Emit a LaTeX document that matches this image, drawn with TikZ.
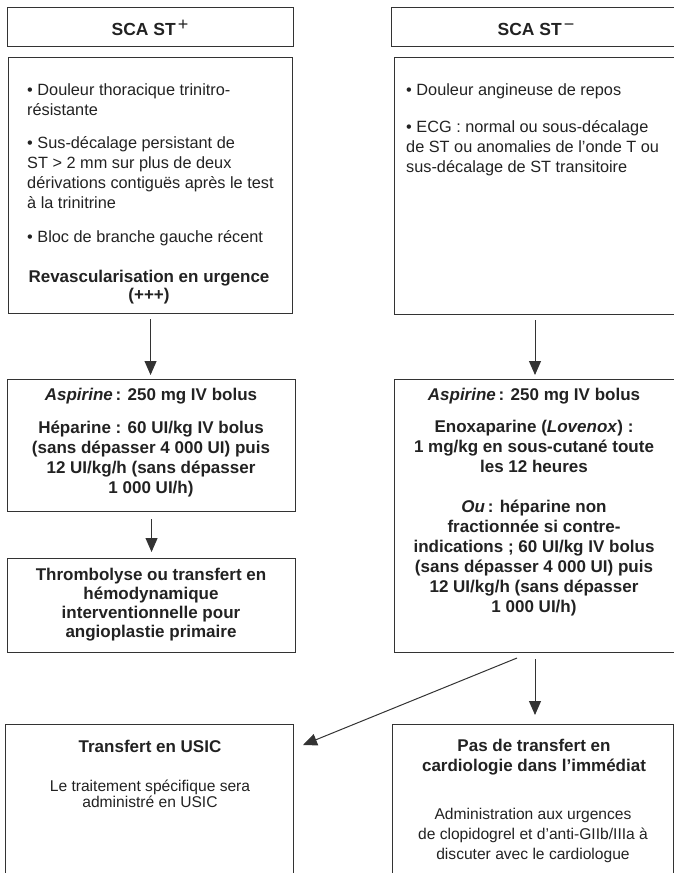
\documentclass[tikz,border=0pt]{standalone}
\usepackage{fontspec}
\setmainfont{Liberation Sans}
\usetikzlibrary{arrows.meta}

\definecolor{linecol}{HTML}{333333}
\definecolor{textcol}{HTML}{222222}

\newcommand\bodyfont{\fontsize{16.3}{20}\selectfont}
\newcommand\smallbody{\fontsize{15.6}{20}\selectfont}
\newcommand\boldfont{\fontsize{17}{20}\selectfont\bfseries}
\newcommand\headfont{\fontsize{17.5}{20}\selectfont\bfseries}
\newcommand\supsign[1]{\kern2pt\raisebox{4.8pt}{\normalfont\fontsize{18}{18}\selectfont #1}}

\tikzset{
  box/.style={draw=linecol, line width=1.1pt, inner sep=0pt, anchor=north west},
  txt/.style={inner sep=0pt, text=textcol, font=\bodyfont},
  btxt/.style={txt, font=\boldfont},
  arr/.style={draw=linecol, line width=1pt, -{Triangle[width=12pt,length=14pt]}},
}

\begin{document}
\begin{tikzpicture}[x=1pt, y=-1pt]
\useasboundingbox (0,0) rectangle (674,873);
\begin{scope}
\clip (0,0) rectangle (674,873);

% ---------- boxes ----------
\node[box, minimum width=286pt, minimum height=39pt]  (hL)  at (7,7)   {};
\node[box, minimum width=320pt, minimum height=39pt]  (hR)  at (391,7) {};
\node[box, minimum width=284pt, minimum height=256pt] (b1L) at (8,57)  {};
\node[box, minimum width=320pt, minimum height=257pt] (b1R) at (394,57) {};
\node[box, minimum width=288pt, minimum height=132pt] (b2L) at (7,379) {};
\node[box, minimum width=320pt, minimum height=273pt] (b2R) at (394,379) {};
\node[box, minimum width=288pt, minimum height=94pt]  (b3L) at (7,558) {};
\node[box, minimum width=288pt, minimum height=200pt] (b4L) at (5,724) {};
\node[box, minimum width=281pt, minimum height=200pt] (b4R) at (392,724) {};

% ---------- texts ----------
\node[txt, anchor=base] (tHL) at (150,35) {\headfont SCA ST\supsign{+}};
\node[txt, anchor=base] (tHR) at (536,35) {\headfont SCA ST\supsign{−}};

\node[txt, anchor=base west] (t1L) at (27,95) {\begin{minipage}[t]{262pt}\raggedright
• Douleur thoracique trinitro-\\résistante\par\vspace{13pt}
• Sus-décalage persistant de\\ST > 2~mm sur plus de deux\\dérivations contiguës après le test\\à la trinitrine\par\vspace{14pt}
• Bloc de branche gauche récent\end{minipage}};
\node[btxt, anchor=base] (t1Lb) at (149,282)
  {\begin{minipage}[t]{280pt}\centering Revascularisation en urgence\\[-2pt](+++)\end{minipage}};

\node[txt, anchor=base west] (t1R) at (406,95) {\begin{minipage}[t]{262pt}\raggedright
• Douleur angineuse de repos\par\vspace{17pt}
• ECG : normal ou sous-décalage\\de ST ou anomalies de l’onde T ou\\sus-décalage de ST transitoire\end{minipage}};

\node[btxt, anchor=base] (t2L) at (151,400) {\begin{minipage}[t]{284pt}\centering
\textit{Aspirine}\,: 250~mg IV bolus\par\vspace{13pt}
Héparine : 60~UI/kg IV bolus\\(sans dépasser 4~000~UI) puis\\12~UI/kg/h (sans dépasser\\1~000~UI/h)\end{minipage}};

\node[btxt, anchor=base] (t2R) at (534,400) {\begin{minipage}[t]{284pt}\centering
\textit{Aspirine}\,: 250~mg IV bolus\par\vspace{12pt}
Enoxaparine (\textit{Lovenox}) :\\1~mg/kg en sous-cutané toute\\les 12 heures\par\vspace{20pt}
\textit{Ou}\,: héparine non\\fractionnée si contre-\\indications ; 60~UI/kg IV bolus\\(sans dépasser 4~000~UI) puis\\12~UI/kg/h (sans dépasser\\1~000~UI/h)\end{minipage}};

\node[btxt, anchor=base] (t3L) at (151,580) {\begin{minipage}[t]{284pt}\centering
\baselineskip=19pt
Thrombolyse ou transfert en\\hémodynamique\\interventionnelle pour\\angioplastie primaire\end{minipage}};

\node[btxt, anchor=base] (t4Lh) at (150,752) {Transfert en USIC};
\node[txt, anchor=base, font=\smallbody] (t4L) at (150,791) {\begin{minipage}[t]{280pt}\centering
\baselineskip=16.5pt
Le traitement spécifique sera\\administré en USIC\end{minipage}};

\node[btxt, anchor=base] (t4Rh) at (534,751) {\begin{minipage}[t]{280pt}\centering
Pas de transfert en\\cardiologie dans l’immédiat\end{minipage}};
\node[txt, anchor=base, font=\smallbody] (t4R) at (533,819) {\begin{minipage}[t]{280pt}\centering
Administration aux urgences\\de clopidogrel et d’anti-GIIb/IIIa à\\discuter avec le cardiologue\end{minipage}};

% ---------- connectors ----------
\coordinate (cR) at (535,0);
\draw[arr, shorten <=5pt, shorten >=4pt] (b1L.south) -- (b2L.north -| b1L.south);
\draw[arr, shorten <=7pt, shorten >=6pt] (b2L.south) -- (b3L.north);
\draw[arr, shorten <=5pt, shorten >=4pt] (b1R.south -| cR) -- (b2R.north -| cR);
\draw[arr, shorten <=6pt, shorten >=9pt] (b2R.south -| cR) -- (b4R.north -| cR);
\coordinate (dS) at (517,658);
\coordinate (dE) at (303,745);
\draw[arr] (dS) -- (dE);
\end{scope}
\end{tikzpicture}
\end{document}
